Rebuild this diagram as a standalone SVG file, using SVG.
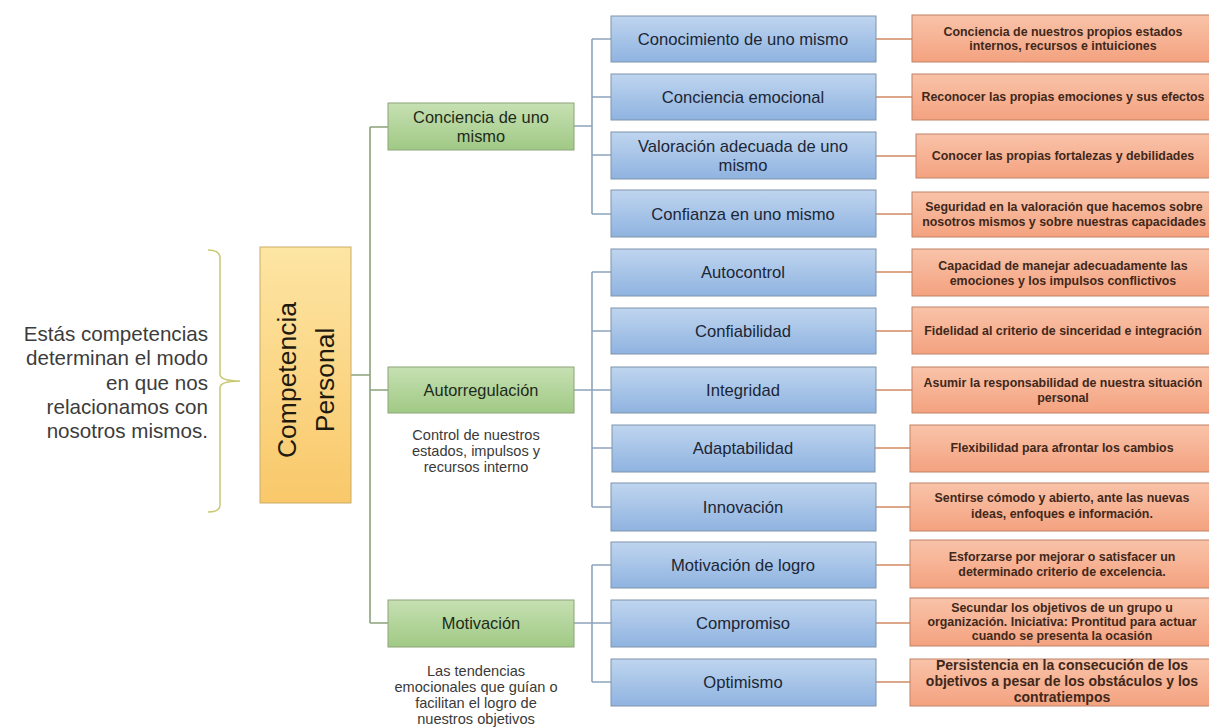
<svg xmlns="http://www.w3.org/2000/svg" width="1209" height="727" viewBox="0 0 1209 727">
  <style>
    .lbl { font-family: "Liberation Sans", Arial, sans-serif; text-anchor: middle; }
    .blue-t { font-size: 16.6px; fill: #1c2636; }
    .green-t { font-size: 16.4px; fill: #1e2a1a; }
    .org-t { font-size: 12.4px; font-weight: bold; fill: #3f281b; }
    .org-big { font-size: 14px; }
    .note { font-size: 14.6px; fill: #3a3a3a; }
    .side { font-family: "Liberation Sans", Arial, sans-serif; font-size: 20.6px; fill: #3c3c3c; text-anchor: end; }
    .blue-b { fill: url(#gBlue); stroke: #7f93ad; stroke-width: 1; }
    .green-b { fill: url(#gGreen); stroke: #8ea37a; stroke-width: 1; }
    .org-b { fill: url(#gOrange); stroke: #c08266; stroke-width: 1; }
    .c-green { stroke: #8aa37a; stroke-width: 1.6; fill: none; }
    .c-blue { stroke: #8ea4bd; stroke-width: 1.6; fill: none; }
    .c-org { stroke: #cf8a62; stroke-width: 1.4; fill: none; }
  </style>
  <defs>
    <linearGradient id="gBlue" x1="0" y1="0" x2="0" y2="1">
      <stop offset="0" stop-color="#bfd5ef"/>
      <stop offset="1" stop-color="#8fb3e0"/>
    </linearGradient>
    <linearGradient id="gGreen" x1="0" y1="0" x2="0" y2="1">
      <stop offset="0" stop-color="#c6e0b2"/>
      <stop offset="1" stop-color="#a0c985"/>
    </linearGradient>
    <linearGradient id="gOrange" x1="0" y1="0" x2="0" y2="1">
      <stop offset="0" stop-color="#f9c3a9"/>
      <stop offset="1" stop-color="#f4a27f"/>
    </linearGradient>
    <linearGradient id="gYellow" x1="0" y1="0" x2="0" y2="1">
      <stop offset="0" stop-color="#fde5a3"/>
      <stop offset="1" stop-color="#f9c86a"/>
    </linearGradient>
  </defs>
  <rect width="1209" height="727" fill="#ffffff"/>

  <!-- explanatory note with brace -->
  <g id="intro">
    <text class="side" x="208" y="341">Estás competencias</text>
    <text class="side" x="208" y="365">determinan el modo</text>
    <text class="side" x="208" y="390">en que nos</text>
    <text class="side" x="208" y="414">relacionamos con</text>
    <text class="side" x="208" y="438">nosotros mismos.</text>
    <path d="M208,250 Q220,250 220,258 L220,374 Q220,381 240,381 Q220,381 220,388 L220,505 Q220,512 208,512" fill="none" stroke="#c8c872" stroke-width="1.5"/>
  </g>

  <!-- connectors -->
  <g id="connectors">
    <path class="c-green" d="M351,375 H370 M370,127 V623 M370,127 H388 M370,390 H388 M370,623 H388"/>
    <path class="c-blue" d="M574,126 H592 M592,39 V214 M592,39 H611 M592,97 H611 M592,155 H611 M592,214 H611"/>
    <path class="c-blue" d="M574,390 H611 M592,272 V507 M592,272 H611 M592,331 H611 M592,448 H612 M592,507 H611"/>
    <path class="c-blue" d="M574,623 H611 M592,565 V682 M592,565 H611 M592,682 H611"/>
    <path class="c-org" d="M876,39 H912 M876,97 H912 M876,156 H916 M876,214 H912 M876,272 H912 M876,331 H912 M876,390 H912 M875,448 H910 M876,507 H910 M876,565 H910 M876,623 H910 M876,682 H910"/>
  </g>

  <!-- root -->
  <g id="root">
    <rect x="260" y="247" width="91" height="256" fill="url(#gYellow)" stroke="#c9ad66" stroke-width="1"/>
    <text class="lbl" transform="rotate(-90)" x="-380" y="296" font-size="26.5" fill="#1f1a10">Competencia</text>
    <text class="lbl" transform="rotate(-90)" x="-380" y="334" font-size="26.5" fill="#1f1a10">Personal</text>
  </g>

  <!-- second level -->
  <g id="conciencia">
    <rect class="green-b" x="388" y="103" width="186" height="47"/>
    <text class="lbl green-t" x="481" y="123">Conciencia de uno</text>
    <text class="lbl green-t" x="481" y="142">mismo</text>
  </g>
  <g id="autorregulacion">
    <rect class="green-b" x="388" y="367" width="186" height="46"/>
    <text class="lbl green-t" x="481" y="396">Autorregulación</text>
    <text class="lbl note" x="476" y="440">Control de nuestros</text>
    <text class="lbl note" x="476" y="456">estados, impulsos y</text>
    <text class="lbl note" x="476" y="472">recursos interno</text>
  </g>
  <g id="motivacion">
    <rect class="green-b" x="388" y="600" width="186" height="47"/>
    <text class="lbl green-t" x="481" y="629">Motivación</text>
    <text class="lbl note" x="476" y="676">Las tendencias</text>
    <text class="lbl note" x="476" y="692">emocionales que guían o</text>
    <text class="lbl note" x="476" y="708">facilitan el logro de</text>
    <text class="lbl note" x="476" y="724">nuestros objetivos</text>
  </g>

  <!-- competencies -->
  <g id="conocimiento">
    <rect class="blue-b" x="611" y="16" width="265" height="46"/>
    <text class="lbl blue-t" x="743" y="45">Conocimiento de uno mismo</text>
  </g>
  <g id="conciencia-emocional">
    <rect class="blue-b" x="611" y="74" width="265" height="46"/>
    <text class="lbl blue-t" x="743" y="103">Conciencia emocional</text>
  </g>
  <g id="valoracion">
    <rect class="blue-b" x="611" y="132" width="265" height="47"/>
    <text class="lbl blue-t" x="743" y="152">Valoración adecuada de uno</text>
    <text class="lbl blue-t" x="743" y="171">mismo</text>
  </g>
  <g id="confianza">
    <rect class="blue-b" x="611" y="190" width="265" height="47"/>
    <text class="lbl blue-t" x="743" y="220">Confianza en uno mismo</text>
  </g>
  <g id="autocontrol">
    <rect class="blue-b" x="611" y="249" width="265" height="47"/>
    <text class="lbl blue-t" x="743" y="278">Autocontrol</text>
  </g>
  <g id="confiabilidad">
    <rect class="blue-b" x="611" y="308" width="265" height="46"/>
    <text class="lbl blue-t" x="743" y="337">Confiabilidad</text>
  </g>
  <g id="integridad">
    <rect class="blue-b" x="611" y="367" width="265" height="46"/>
    <text class="lbl blue-t" x="743" y="396">Integridad</text>
  </g>
  <g id="adaptabilidad">
    <rect class="blue-b" x="612" y="425" width="263" height="47"/>
    <text class="lbl blue-t" x="743" y="454">Adaptabilidad</text>
  </g>
  <g id="innovacion">
    <rect class="blue-b" x="611" y="483" width="265" height="48"/>
    <text class="lbl blue-t" x="743" y="513">Innovación</text>
  </g>
  <g id="motivacion-logro">
    <rect class="blue-b" x="611" y="542" width="265" height="46"/>
    <text class="lbl blue-t" x="743" y="571">Motivación de logro</text>
  </g>
  <g id="compromiso">
    <rect class="blue-b" x="611" y="600" width="265" height="47"/>
    <text class="lbl blue-t" x="743" y="629">Compromiso</text>
  </g>
  <g id="optimismo">
    <rect class="blue-b" x="611" y="659" width="265" height="47"/>
    <text class="lbl blue-t" x="743" y="688">Optimismo</text>
  </g>

  <!-- descriptions -->
  <g id="d-conocimiento">
    <rect class="org-b" x="912" y="15" width="303" height="47"/>
    <text class="lbl org-t" x="1063" y="36">Conciencia de nuestros propios estados</text>
    <text class="lbl org-t" x="1063" y="50">internos, recursos e intuiciones</text>
  </g>
  <g id="d-conciencia-emocional">
    <rect class="org-b" x="912" y="74" width="303" height="46"/>
    <text class="lbl org-t" x="1063" y="101">Reconocer las propias emociones y sus efectos</text>
  </g>
  <g id="d-valoracion">
    <rect class="org-b" x="916" y="134" width="299" height="44"/>
    <text class="lbl org-t" x="1063" y="160">Conocer las propias fortalezas y debilidades</text>
  </g>
  <g id="d-confianza">
    <rect class="org-b" x="912" y="192" width="303" height="45"/>
    <text class="lbl org-t" x="1064" y="211">Seguridad en la valoración que hacemos sobre</text>
    <text class="lbl org-t" x="1064" y="226">nosotros mismos y sobre nuestras capacidades</text>
  </g>
  <g id="d-autocontrol">
    <rect class="org-b" x="912" y="249" width="303" height="47"/>
    <text class="lbl org-t" x="1063" y="270">Capacidad de manejar adecuadamente las</text>
    <text class="lbl org-t" x="1063" y="285">emociones y los impulsos conflictivos</text>
  </g>
  <g id="d-confiabilidad">
    <rect class="org-b" x="912" y="307" width="303" height="47"/>
    <text class="lbl org-t" x="1063" y="335">Fidelidad al criterio de sinceridad e integración</text>
  </g>
  <g id="d-integridad">
    <rect class="org-b" x="912" y="367" width="303" height="46"/>
    <text class="lbl org-t" x="1063" y="387">Asumir la responsabilidad de nuestra situación</text>
    <text class="lbl org-t" x="1063" y="402">personal</text>
  </g>
  <g id="d-adaptabilidad">
    <rect class="org-b" x="910" y="425" width="305" height="47"/>
    <text class="lbl org-t" x="1062" y="452">Flexibilidad para afrontar los cambios</text>
  </g>
  <g id="d-innovacion">
    <rect class="org-b" x="910" y="483" width="305" height="48"/>
    <text class="lbl org-t" x="1062" y="502">Sentirse cómodo y abierto, ante las nuevas</text>
    <text class="lbl org-t" x="1062" y="518">ideas, enfoques e información.</text>
  </g>
  <g id="d-motivacion-logro">
    <rect class="org-b" x="910" y="540" width="305" height="48"/>
    <text class="lbl org-t" x="1062" y="561">Esforzarse por mejorar o satisfacer un</text>
    <text class="lbl org-t" x="1062" y="576">determinado criterio de excelencia.</text>
  </g>
  <g id="d-compromiso">
    <rect class="org-b" x="910" y="598" width="305" height="48"/>
    <text class="lbl org-t" x="1062" y="612">Secundar los objetivos de un grupo u</text>
    <text class="lbl org-t" x="1062" y="626">organización. Iniciativa: Prontitud para actuar</text>
    <text class="lbl org-t" x="1062" y="640">cuando se presenta la ocasión</text>
  </g>
  <g id="d-optimismo">
    <rect class="org-b" x="910" y="659" width="305" height="47"/>
    <text class="lbl org-t org-big" x="1062" y="670">Persistencia en la consecución de los</text>
    <text class="lbl org-t org-big" x="1062" y="686">objetivos a pesar de los obstáculos y los</text>
    <text class="lbl org-t org-big" x="1062" y="702">contratiempos</text>
  </g>
</svg>
